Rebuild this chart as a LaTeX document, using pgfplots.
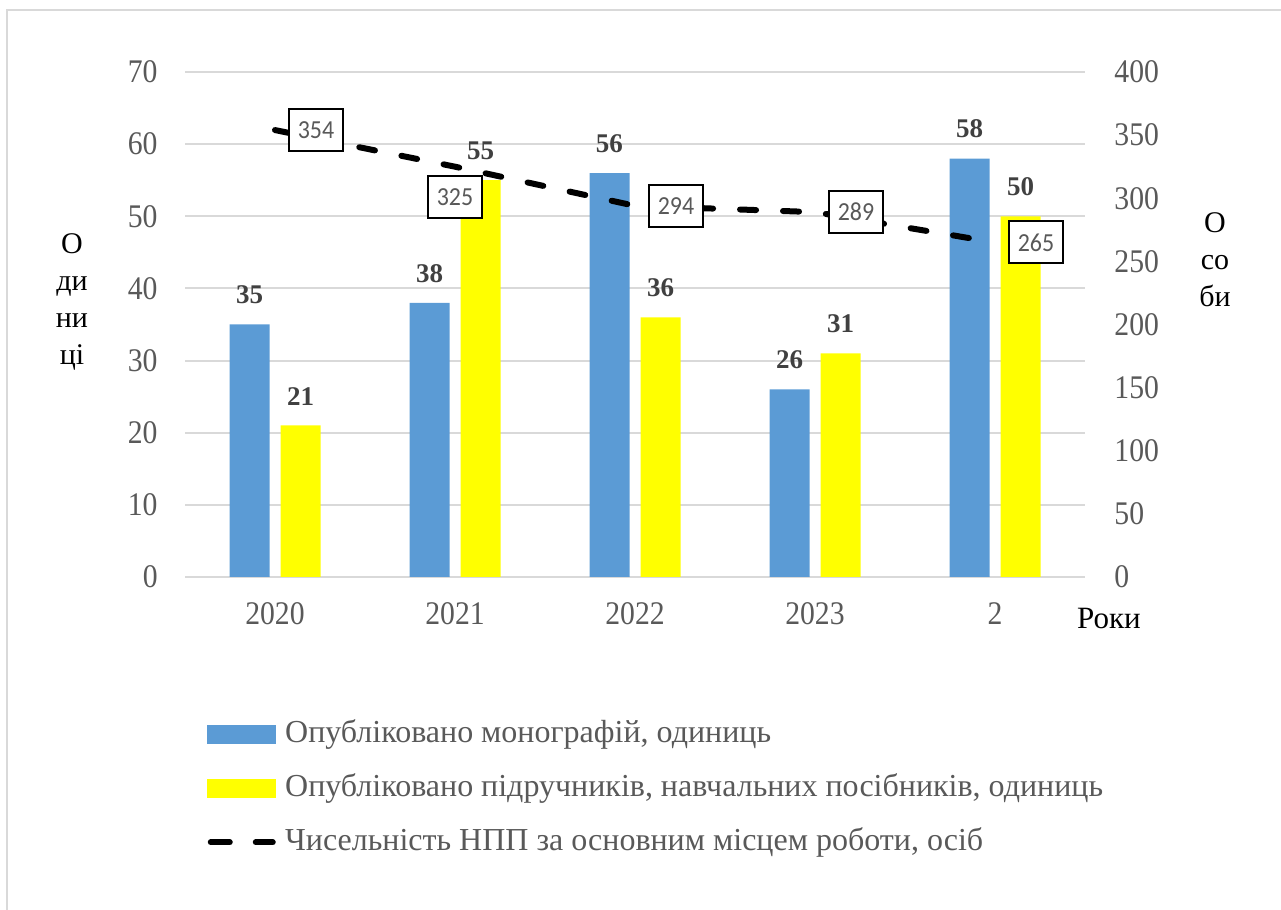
\documentclass[border=0pt]{standalone}
\usepackage{pgfplots}
\pgfplotsset{compat=1.18}
\usepackage{fontspec}
\setmainfont{Liberation Serif}
\newfontfamily\tickfont{Liberation Serif}[FakeStretch=0.9]
\newfontfamily\boxfont{Carlito}[FakeStretch=0.92]
\definecolor{barblue}{HTML}{5B9BD5}
\definecolor{baryellow}{HTML}{FFFF00}
\definecolor{txtgray}{HTML}{595959}
\definecolor{gridgray}{HTML}{D9D9D9}
\definecolor{lblgray}{HTML}{404040}

% publications per year (left axis, units)
\pgfplotstableread{
x mono textb
0 35 21
1 38 55
2 56 36
3 26 31
4 58 50
}\pubs
% teaching staff (right axis, persons)
\pgfplotstableread{
x staff
0 354
1 325
2 294
3 289
4 265
}\staff

\pgfplotsset{
  base/.style={
    scale only axis, width=450pt, height=252.5pt,
    at={(92.5pt,166.5pt)}, anchor=south west,
    xmin=-0.5, xmax=4.5,
    axis line style={draw=none},
    tick style={draw=none},
    major tick length=0pt,
    ticklabel style={font=\tickfont\fontsize{16.5}{18}\selectfont, text=txtgray, inner sep=0pt},
    /pgf/number format/assume math mode=true,
  }
}

\begin{document}
\begin{tikzpicture}
\path[use as bounding box] (0,0) rectangle (640.5pt,455pt);
\draw[gridgray, line width=1pt] (3.5pt,-10pt) rectangle (660pt,450pt);

\begin{axis}[base,
  ymin=0, ymax=70, ytick={0,10,...,70},
  ymajorgrids, grid style={gridgray, line width=1pt},
  xtick={0,...,4}, xticklabels={2020,2021,2022,2023,2},
  xticklabel style={yshift=-12.5pt},
  yticklabel style={xshift=-13.5pt},
  ybar=5.5pt, bar width=20pt,
  nodes near coords,
  every node near coord/.append style={font=\bfseries\fontsize{13.5}{14}\selectfont, text=lblgray, inner sep=0pt, yshift=10pt},
]
\addplot[fill=barblue, draw=none] table[x=x,y=mono]{\pubs};
\addplot[fill=baryellow, draw=none] table[x=x,y=textb]{\pubs};
\end{axis}

\begin{axis}[base,
  ymin=0, ymax=400, ytick={0,50,...,400},
  axis y line*=right, hide x axis,
  yticklabel style={xshift=14.5pt},
  clip=false,
  legend cell align=left,
  legend style={at={(0.0244,-0.279)}, anchor=north west, draw=none, fill=none,
    inner sep=0pt, row sep=11pt,
    font=\fontsize{16}{18}\selectfont, text=txtgray,
    nodes={inner sep=0pt, text height=12pt, text depth=4pt},
    /tikz/every odd column/.append style={column sep=4.5pt}},
]
\addlegendimage{legend image code/.code={\fill[barblue] (0pt,-4.5pt) rectangle (34pt,4.5pt);}}
\addlegendentry{Опубліковано монографій, одиниць}
\addlegendimage{legend image code/.code={\fill[baryellow] (0pt,-4.5pt) rectangle (34pt,4.5pt);}}
\addlegendentry{Опубліковано підручників, навчальних посібників,\ одиниць}
\addlegendimage{legend image code/.code={\draw[black, line width=3pt, line cap=round] (1.5pt,0pt) -- (11pt,0pt) (24pt,0pt) -- (32.5pt,0pt);}}
\addlegendentry{Чисельність\ НПП за основним місцем роботи, осіб}
\addplot[forget plot, black, line width=3pt, line cap=round, dash pattern=on 8pt off 13.5pt,
  nodes near coords,
  every node near coord/.append style={font=\boxfont\fontsize{13}{14}\selectfont, text=txtgray,
    draw=black, line width=1pt, fill=white, minimum width=27pt, minimum height=21pt,
    inner sep=0pt, anchor=center, xshift=20.5pt, solid},
  coordinate style/.condition={x==1}{xshift=-20.5pt, yshift=-15pt},
] table[x=x,y=staff]{\staff};
\end{axis}

\node[align=center, font=\fontsize{15}{18.5}\selectfont] at (36pt,304pt) {О\\ди\\ни\\ці};
\node[align=center, font=\fontsize{15}{18.5}\selectfont] at (607.5pt,325pt) {О\\со\\би};
\node[anchor=west, font=\fontsize{15.5}{18}\selectfont] at (535pt,145.5pt) {Роки};
\end{tikzpicture}
\end{document}
